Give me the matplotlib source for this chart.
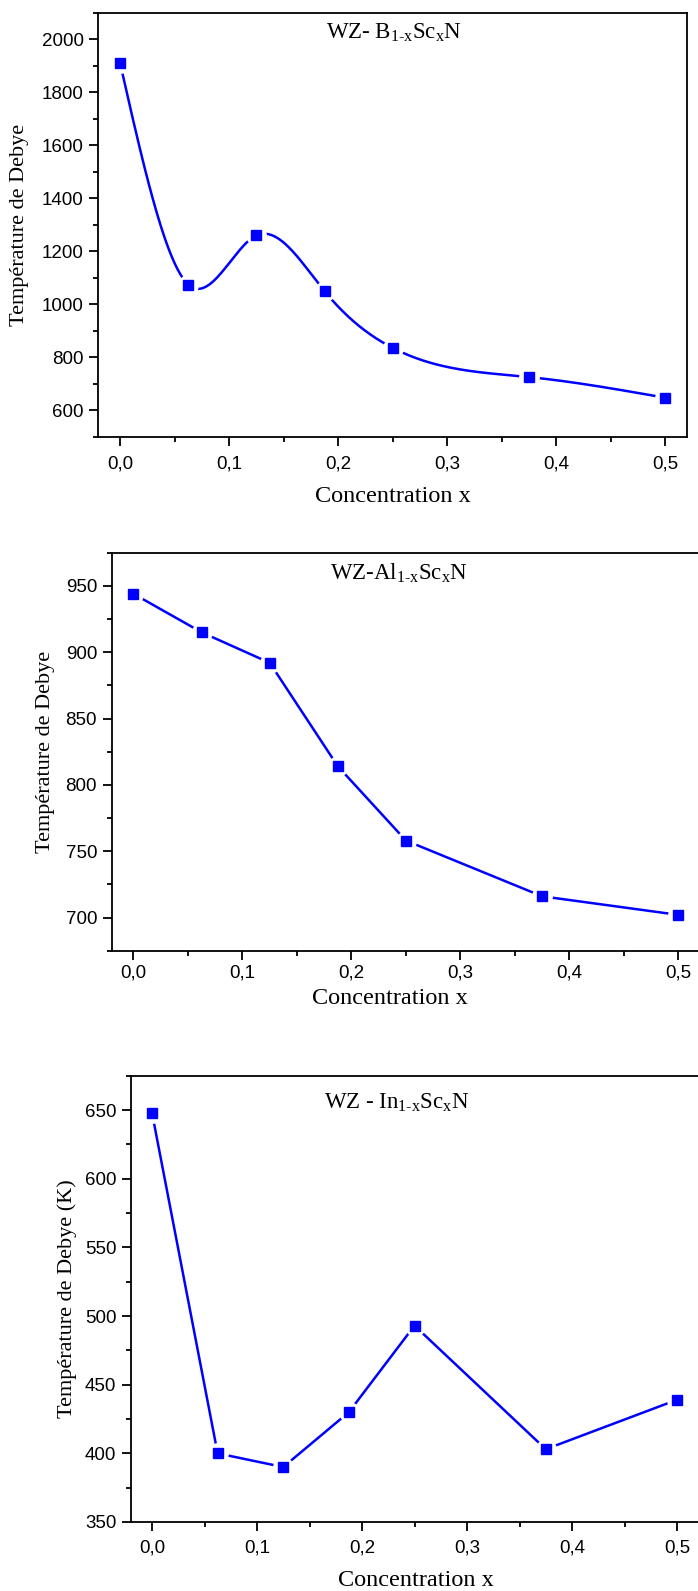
import numpy as np
import matplotlib
matplotlib.use("Agg")
import matplotlib.pyplot as plt
from matplotlib.ticker import MultipleLocator, FuncFormatter

# Données : concentration x et température de Debye (K)
concentration = [0.0, 0.0625, 0.125, 0.1875, 0.25, 0.375, 0.5]
debye_bscn = [1910, 1075, 1260, 1050, 836, 726, 648]
debye_alscn = [944, 915, 892, 814, 758, 716, 702]
debye_inscn = [648, 400, 390, 430, 493, 403, 439]

W, H = 698, 1591
BLUE = "#0000FF"
SERIF = ["Liberation Serif", "DejaVu Serif"]
SANS = ["Liberation Sans", "DejaVu Sans"]

plt.rcParams["font.family"] = SANS
plt.rcParams["mathtext.fontset"] = "custom"
plt.rcParams["mathtext.rm"] = "Liberation Serif"
plt.rcParams["mathtext.it"] = "Liberation Serif:italic"
plt.rcParams["mathtext.bf"] = "Liberation Serif:bold"


def natural_spline(xs, ys, num=400):
    """Spline cubique naturelle (comme le tracé 'Spline' d'Origin)"""
    xs = np.asarray(xs, float)
    ys = np.asarray(ys, float)
    h = np.diff(xs)
    n = len(xs)
    A = np.zeros((n - 2, n - 2))
    rhs = np.zeros(n - 2)
    for i in range(n - 2):
        A[i, i] = 2 * (h[i] + h[i + 1])
        if i + 1 < n - 2:
            A[i, i + 1] = h[i + 1]
            A[i + 1, i] = h[i + 1]
        rhs[i] = 6 * ((ys[i + 2] - ys[i + 1]) / h[i + 1] - (ys[i + 1] - ys[i]) / h[i])
    M = np.zeros(n)
    M[1:-1] = np.linalg.solve(A, rhs)
    t = np.linspace(xs[0], xs[-1], num)
    k = np.clip(np.searchsorted(xs, t) - 1, 0, n - 2)
    x0, x1, hk = xs[k], xs[k + 1], h[k]
    s = (M[k] * (x1 - t) ** 3 / (6 * hk) + M[k + 1] * (t - x0) ** 3 / (6 * hk)
         + (ys[k] / hk - M[k] * hk / 6) * (x1 - t)
         + (ys[k + 1] / hk - M[k + 1] * hk / 6) * (t - x0))
    return t, s


def add_axes_px(left, top, right, bottom):
    return fig.add_axes([left / W, 1 - bottom / H, (right - left) / W, (bottom - top) / H])


def style_axes(ax, ymaj, ymin, xpad):
    comma = FuncFormatter(lambda v, p: f"{v:.1f}".replace(".", ","))
    ax.xaxis.set_major_locator(MultipleLocator(0.1))
    ax.xaxis.set_minor_locator(MultipleLocator(0.05))
    ax.xaxis.set_major_formatter(comma)
    ax.yaxis.set_major_locator(MultipleLocator(ymaj))
    ax.yaxis.set_minor_locator(MultipleLocator(ymin))
    ax.tick_params(which="both", direction="out", width=1.3, top=False, right=False)
    ax.tick_params(which="major", length=6.5, labelsize=13.5)
    ax.tick_params(which="minor", length=3.3)
    ax.tick_params(axis="x", which="major", pad=xpad)
    ax.tick_params(axis="y", which="major", pad=4)
    for sp in ax.spines.values():
        sp.set_linewidth(1.3)


def draw_points(ax, x, y):
    # halo blanc pour imiter l'espace ligne/symbole d'Origin
    ax.plot(x, y, ls="none", marker="o", ms=15, mfc="white", mec="none", zorder=3)
    ax.plot(x, y, ls="none", marker="s", ms=7.8, mfc=BLUE, mec=BLUE, zorder=4)


fig = plt.figure(figsize=(W / 100, H / 100), dpi=100)

# ---- WZ-B(1-x)Sc(x)N : courbe spline ----
ax1 = add_axes_px(98.3, 12.7, 687, 437)
xs, ys = natural_spline(concentration, debye_bscn)
ax1.plot(xs, ys, color=BLUE, lw=1.8, zorder=2)
draw_points(ax1, concentration, debye_bscn)
ax1.set_xlim(-0.02, 0.52)
ax1.set_ylim(500, 2100)
style_axes(ax1, 200, 100, 6.5)
fig.text(394 / W, 1 - 38.3 / H, r"WZ- B$_{\mathrm{1‐x}}$Sc$_{\mathrm{x}}$N",
         family=SERIF, fontsize=16.5, ha="center", va="baseline")
fig.text(20 / W, 1 - 225 / H, "Température de Debye", family=SERIF, fontsize=16,
         rotation=90, ha="center", va="center")
fig.text(393 / W, 1 - 501.7 / H, "Concentration x", family=SERIF, fontsize=17.5,
         ha="center", va="baseline")

# ---- WZ-Al(1-x)Sc(x)N ----
ax2 = add_axes_px(111.7, 552.7, 722, 950.7)
ax2.plot(concentration, debye_alscn, color=BLUE, lw=1.8, zorder=2)
draw_points(ax2, concentration, debye_alscn)
ax2.set_xlim(-0.02, 0.54)
ax2.set_ylim(675, 975)
style_axes(ax2, 50, 25, 3.5)
fig.text(399 / W, 1 - 579.3 / H, r"WZ-Al$_{\mathrm{1‐x}}$Sc$_{\mathrm{x}}$N",
         family=SERIF, fontsize=16.5, ha="center", va="baseline")
fig.text(45.4 / W, 1 - 751.7 / H, "Température de Debye", family=SERIF, fontsize=16,
         rotation=90, ha="center", va="center")
fig.text(390 / W, 1 - 1004.3 / H, "Concentration x", family=SERIF, fontsize=17.5,
         ha="center", va="baseline")

# ---- WZ-In(1-x)Sc(x)N ----
ax3 = add_axes_px(131, 1075.7, 719, 1522)
ax3.plot(concentration, debye_inscn, color=BLUE, lw=1.8, zorder=2)
draw_points(ax3, concentration, debye_inscn)
ax3.set_xlim(-0.02, 0.54)
ax3.set_ylim(350, 675)
style_axes(ax3, 50, 25, 6)
fig.text(397 / W, 1 - 1108.8 / H, r"WZ - In$_{\mathrm{1‐x}}$Sc$_{\mathrm{x}}$N",
         family=SERIF, fontsize=16.5, ha="center", va="baseline")
fig.text(67.5 / W, 1 - 1299 / H, "Température de Debye (K)", family=SERIF, fontsize=16,
         rotation=90, ha="center", va="center")
fig.text(415.5 / W, 1 - 1586 / H, "Concentration x", family=SERIF, fontsize=17.5,
         ha="center", va="baseline")

fig.savefig("out.png", dpi=100)
plt.close(fig)
